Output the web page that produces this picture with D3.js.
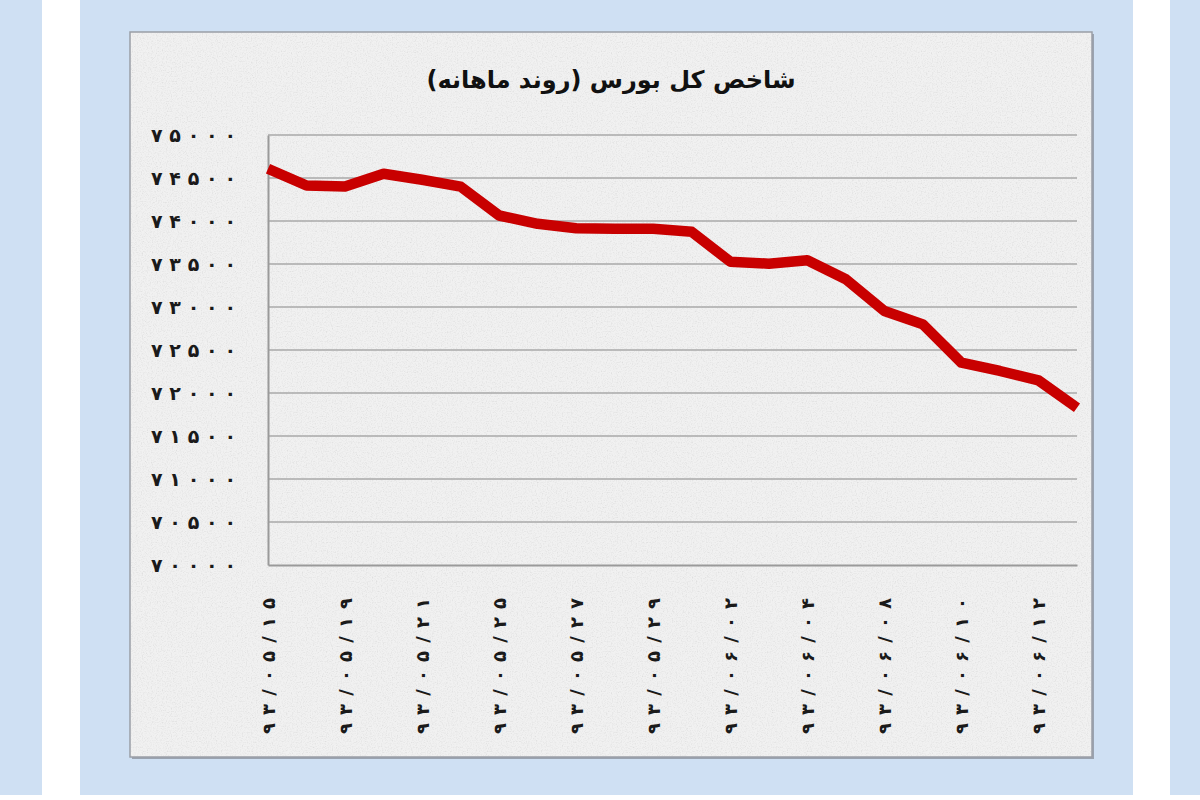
<!DOCTYPE html>
<html><head><meta charset="utf-8">
<script src="https://cdn.jsdelivr.net/npm/d3@7"></script>
<style>
html,body{margin:0;padding:0;background:#ffffff;}
svg{display:block;}
</style></head>
<body>
<svg id="chart" width="1200" height="800"></svg>
<script>
// ---- data ----
const title = "شاخص کل بورس (روند ماهانه)";
const categories = ["۹۳/۰۵/۱۵","۹۳/۰۵/۱۸","۹۳/۰۵/۱۹","۹۳/۰۵/۲۰","۹۳/۰۵/۲۱","۹۳/۰۵/۲۲","۹۳/۰۵/۲۵","۹۳/۰۵/۲۶","۹۳/۰۵/۲۷","۹۳/۰۵/۲۸","۹۳/۰۵/۲۹","۹۳/۰۶/۰۱","۹۳/۰۶/۰۲","۹۳/۰۶/۰۳","۹۳/۰۶/۰۴","۹۳/۰۶/۰۵","۹۳/۰۶/۰۸","۹۳/۰۶/۰۹","۹۳/۰۶/۱۰","۹۳/۰۶/۱۱","۹۳/۰۶/۱۲","۹۳/۰۶/۱۵"];
const indexValues = [74607,74413,74400,74549,74479,74400,74064,73967,73916,73909,73909,73874,73527,73504,73543,73322,72953,72798,72352,72256,72147,71829];
const xTickLabels = ["۹۳/۰۵/۱۵","۹۳/۰۵/۱۹","۹۳/۰۵/۲۱","۹۳/۰۵/۲۵","۹۳/۰۵/۲۷","۹۳/۰۵/۲۹","۹۳/۰۶/۰۲","۹۳/۰۶/۰۴","۹۳/۰۶/۰۸","۹۳/۰۶/۱۰","۹۳/۰۶/۱۲"];
const yTicks = [70000,70500,71000,71500,72000,72500,73000,73500,74000,74500,75000];

const faDigits = "۰۱۲۳۴۵۶۷۸۹";
const toFa = s => String(s).replace(/[0-9]/g, d => faDigits[+d]);

const svg = d3.select("#chart");

// ---- page background ----
const defs = svg.append("defs");
const f = defs.append("filter").attr("id","noise").attr("x",0).attr("y",0).attr("width","100%").attr("height","100%");
f.append("feTurbulence").attr("type","fractalNoise").attr("baseFrequency",0.8).attr("numOctaves",2).attr("seed",4).attr("result","t");
f.append("feColorMatrix").attr("in","t").attr("type","matrix")
 .attr("values","1.8 0 0 0 -0.05  1.8 0 0 0 -0.05  1.8 0 0 0 -0.05  0 0 0 0 0.14");

svg.append("rect").attr("width",1200).attr("height",800).attr("fill","#ffffff");
svg.append("rect").attr("x",0).attr("y",0).attr("width",42).attr("height",795).attr("fill","#cfe0f3");
svg.append("rect").attr("x",80).attr("y",0).attr("width",1053).attr("height",795).attr("fill","#cfe0f3");
svg.append("rect").attr("x",1170).attr("y",0).attr("width",30).attr("height",795).attr("fill","#cfe0f3");

// ---- chart panel ----
const panel = {x:130, y:32, w:962, h:725};
svg.append("rect").attr("x",panel.x+2).attr("y",panel.y+2).attr("width",panel.w).attr("height",panel.h).attr("fill","#9aa3b0");
svg.append("rect").attr("x",panel.x).attr("y",panel.y).attr("width",panel.w).attr("height",panel.h)
  .attr("fill","#efefef").attr("stroke","#9a9ea6").attr("stroke-width",1.5);
svg.append("rect").attr("x",panel.x+1).attr("y",panel.y+1).attr("width",panel.w-2).attr("height",panel.h-2)
  .attr("filter","url(#noise)");

// ---- scales ----
const x = d3.scalePoint().domain(categories).range([268, 1077]);
const y = d3.scaleLinear().domain([70000, 75000]).range([565, 135]);

// title
svg.append("text").attr("x", panel.x + panel.w/2).attr("y", 88)
  .attr("text-anchor","middle").attr("direction","rtl").style("unicode-bidi","embed")
  .attr("font-family","'DejaVu Sans', sans-serif").attr("font-weight","bold").attr("font-size",24)
  .attr("fill","#111").text(title);

// gridlines
svg.append("g").selectAll("line").data(yTicks.filter(v => v > 70000)).join("line")
  .attr("x1",268).attr("x2",1077).attr("y1",d=>y(d)).attr("y2",d=>y(d))
  .attr("stroke","#a8a8a8").attr("stroke-width",1.6);

// axes
const yAxis = d3.axisLeft(y).tickValues(yTicks).tickSize(0).tickPadding(32).tickFormat(d => toFa(d));
const gy = svg.append("g").attr("transform","translate(268,0)").call(yAxis);
gy.select(".domain").attr("stroke","#9a9a9a").attr("stroke-width",2);
gy.selectAll("text").attr("font-family","'DejaVu Sans', sans-serif").attr("font-weight","bold")
  .attr("font-size",19).attr("textLength",85).attr("lengthAdjust","spacing")
  .attr("text-anchor","end").attr("fill","#1a1a1a");

const xAxis = d3.axisBottom(x).tickValues(xTickLabels).tickSize(0).tickFormat(d => d);
const gx = svg.append("g").attr("transform","translate(0,565)").call(xAxis);
gx.select(".domain").attr("stroke","#9a9a9a").attr("stroke-width",2);
gx.selectAll("text")
  .attr("transform","rotate(-90)").attr("x",-33).attr("y",0).attr("dy","0.35em")
  .attr("text-anchor","end")
  .attr("font-family","'DejaVu Sans', sans-serif").attr("font-weight","bold")
  .attr("font-size",18).attr("textLength",136).attr("lengthAdjust","spacing").attr("fill","#1a1a1a");

// line
const line = d3.line().x((d,i) => x(categories[i])).y(d => y(d));
svg.append("path").datum(indexValues).attr("d", line)
  .attr("fill","none").attr("stroke","#c80000").attr("stroke-width",10.5)
  .attr("stroke-linejoin","round").attr("stroke-linecap","butt");
</script>
</body></html>
